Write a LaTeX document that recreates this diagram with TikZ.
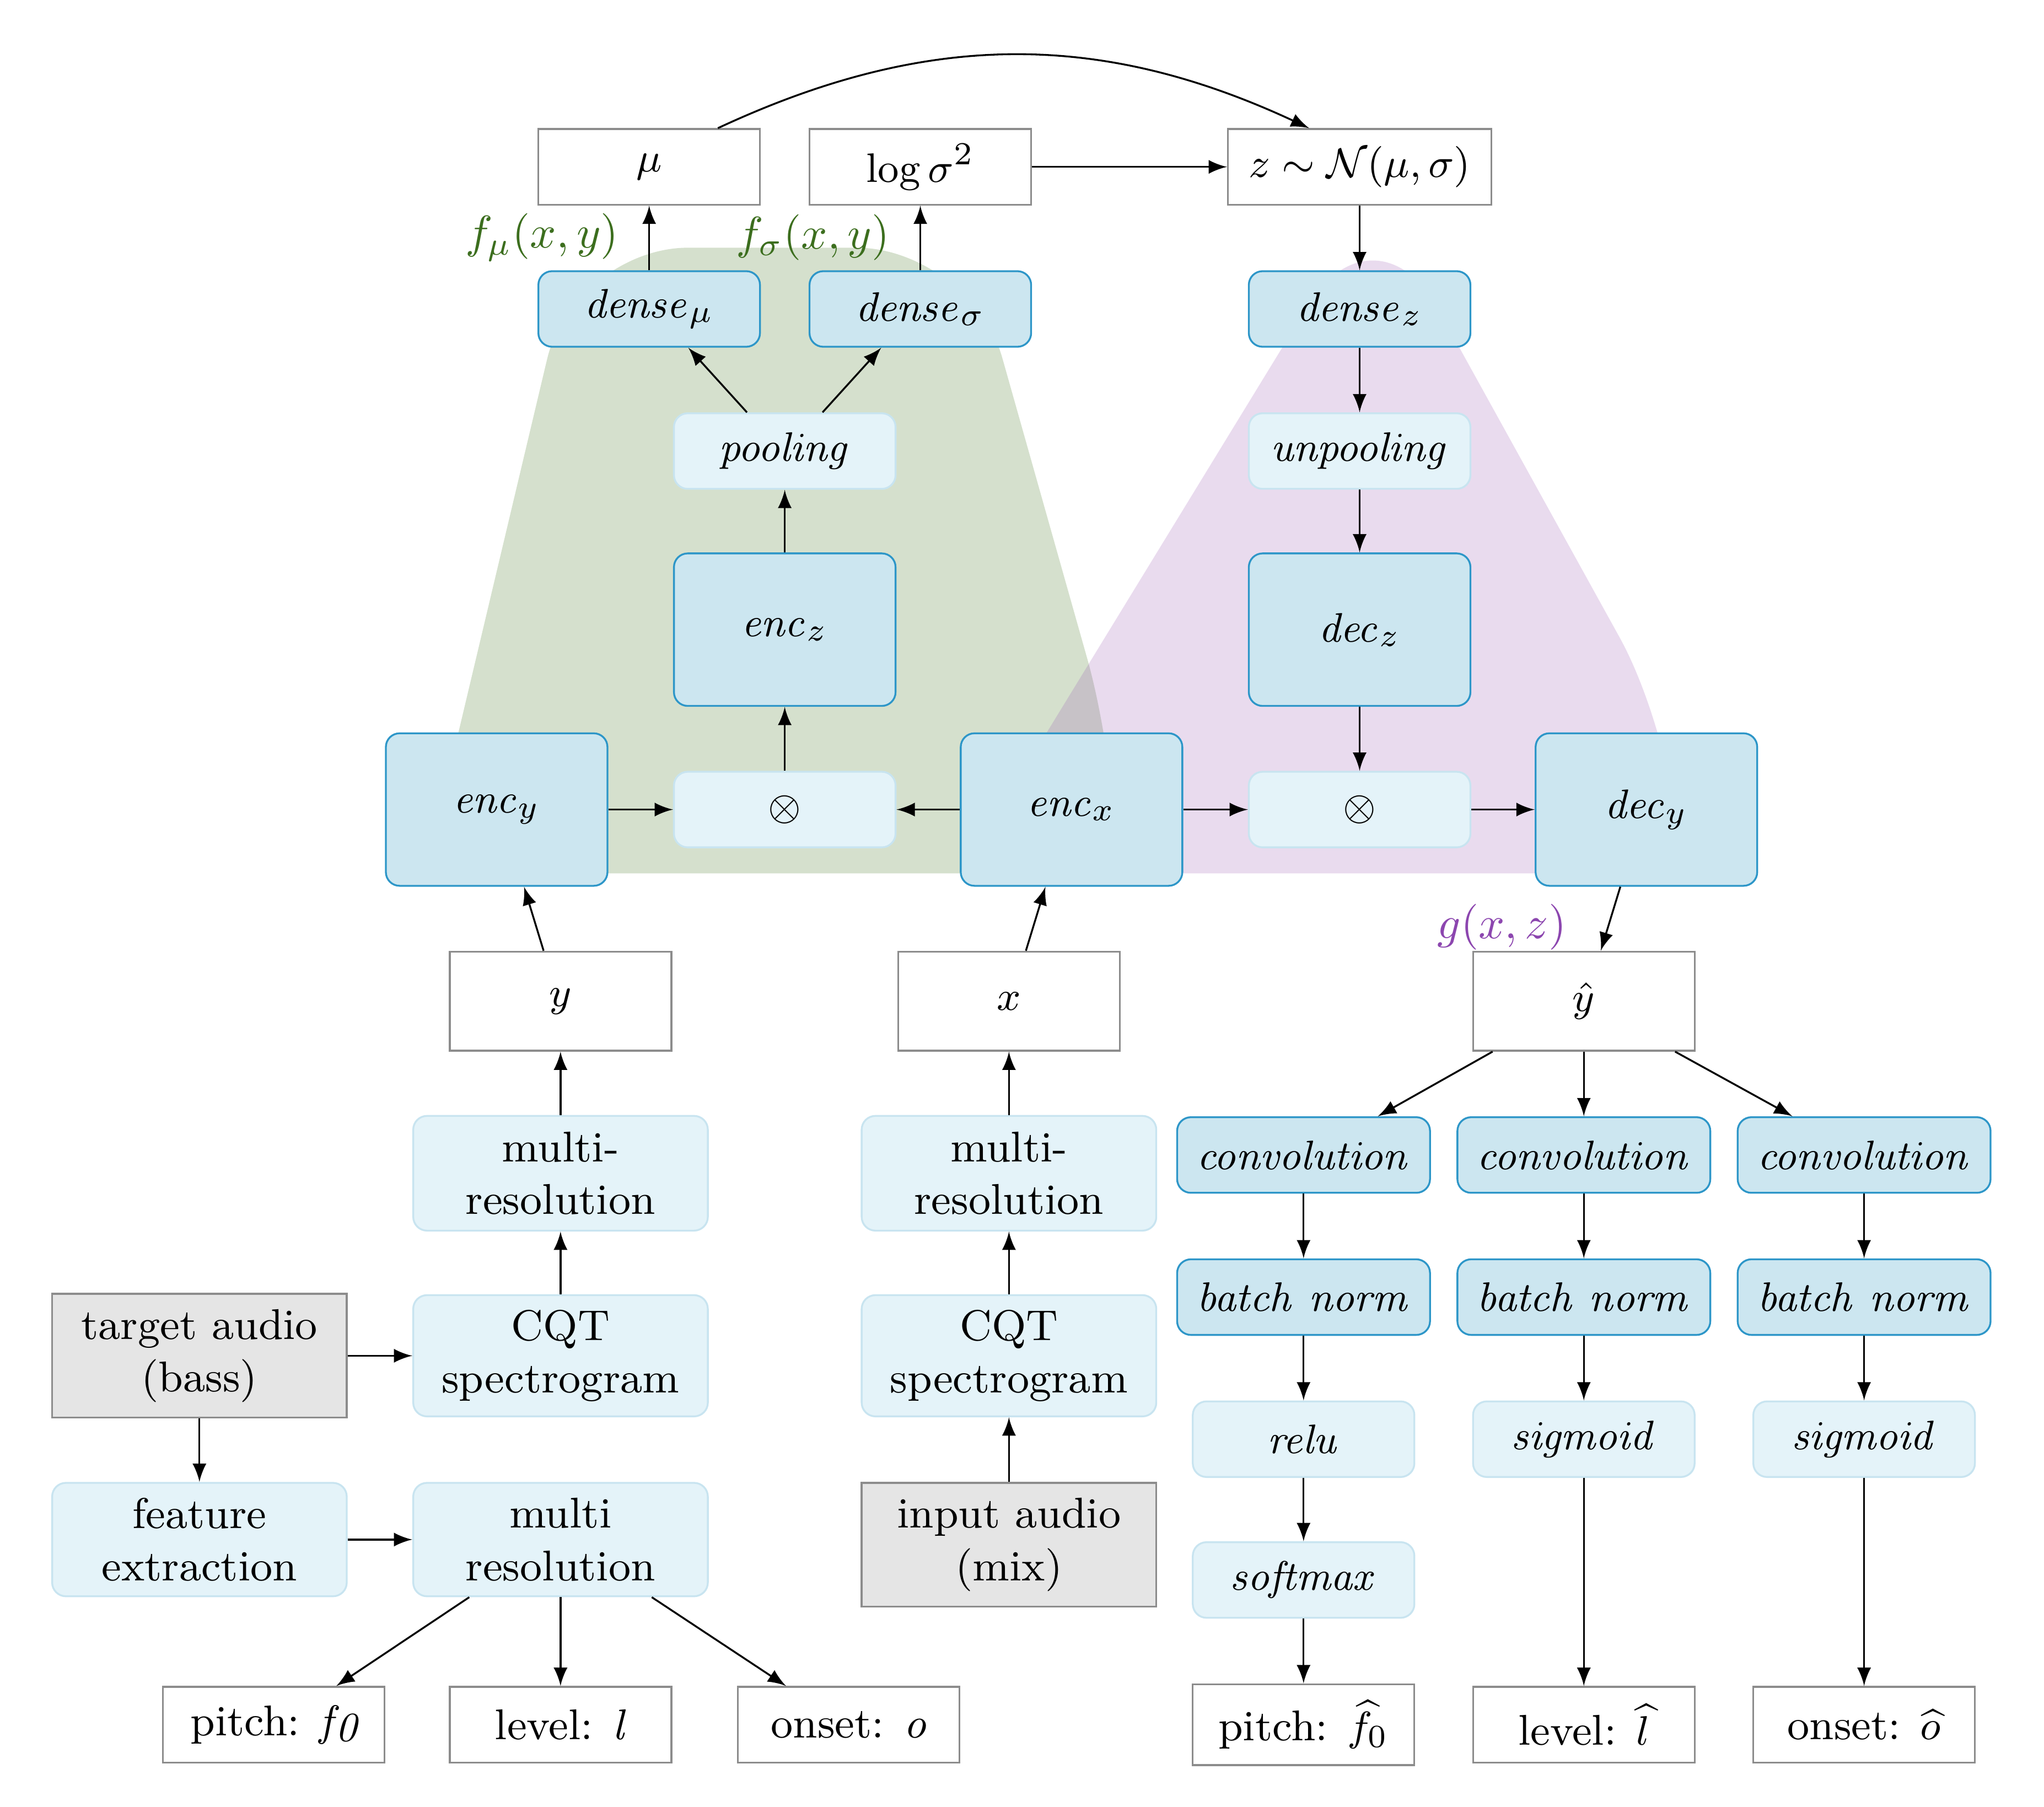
\documentclass[tikz,border=0pt]{standalone}
\usepackage{amsmath}
\usepackage{tikz}
\usetikzlibrary{positioning}
\usetikzlibrary{calc,arrows}
\definecolor{darkfill}{RGB}{204,230,240}
\definecolor{darkline}{RGB}{45,150,200}
\definecolor{lightfill}{RGB}{228,243,249}
\definecolor{lightline}{RGB}{200,228,240}
\definecolor{encgreen}{RGB}{115,153,90}
\definecolor{decpurple}{RGB}{153,90,178}
\definecolor{labgreen}{RGB}{60,110,30}
\definecolor{labpurple}{RGB}{140,70,175}
\tikzset{
  blk/.style = {align=center, inner sep=0pt, text centered,
    minimum width=1.7cm, minimum height=0.58cm, font=\fontsize{9.4}{11.5}\selectfont},
  blk_w/.style = {blk, rectangle, draw=black!45, fill=white},% plain box
  blk_d/.style = {blk, rectangle, rounded corners=3pt, draw=darkline,
    fill=darkfill},% layer, dark
  blk_l/.style = {blk, rectangle, rounded corners=3pt, draw=lightline,
    fill=lightfill},% layer, light
  blk_g/.style = {blk, rectangle, draw=black!45, fill=black!10},% audio in
  wide/.style = {minimum width=2.26cm, minimum height=0.88cm},
  tall/.style = {minimum height=1.17cm}
}
\begin{document}
\begin{tikzpicture}[-latex, x=0.1mm, y=-0.1mm]
\useasboundingbox (0,0) rectangle (1568,1386);
% encoder / decoder areas
\fill[encgreen, opacity=0.3, rounded corners=25pt] (345,590) -- (440,190) -- (745,190) -- (858,590) [sharp corners] -- (858,670) -- (345,670) -- cycle;
\fill[decpurple, opacity=0.22, rounded corners=28pt] (795,575) -- (1055,150) -- (1290,575) [sharp corners] -- (1290,670) -- (795,670) -- cycle;
% top row
\node [blk_w] (mu) at (498,128) {$\mu$};
\node [blk_w] (lsig) at (706,128) {$\log\sigma^2$};
\node [blk_w, minimum width=2.02cm] (z) at (1043,128) {$z \sim \mathcal{N}(\mu,\sigma)$};
\node [blk_d] (dmu) at (498,237) {$\mathit{dense}_\mu$};
\node [blk_d] (dsig) at (706,237) {$\mathit{dense}_\sigma$};
\node [blk_d] (dz) at (1043,237) {$\mathit{dense}_z$};
\node [blk_l] (pool) at (602,346) {$\mathit{pooling}$};
\node [blk_l] (unpool) at (1043,346) {$\mathit{unpooling}$};
\node [blk_d, tall] (encz) at (602,483) {$\mathit{enc}_z$};
\node [blk_d, tall] (decz) at (1043,483) {$\mathit{dec}_z$};
\node [blk_d, tall] (ency) at (381,621) {$\mathit{enc}_y$};
\node [blk_l] (ot1) at (602,621) {$\otimes$};
\node [blk_d, tall] (encx) at (822,621) {$\mathit{enc}_x$};
\node [blk_l] (ot2) at (1043,621) {$\otimes$};
\node [blk_d, tall] (decy) at (1263,621) {$\mathit{dec}_y$};
\node [text=labgreen, anchor=east] (fmu) at (487,182) {$f_\mu(x,y)$};
\node [text=labgreen, anchor=east] (fsig) at (695,182) {$f_\sigma(x,y)$};
\node [text=labpurple, anchor=east] (gxz) at (1214,711) {$g(x,z)$};
% inputs
\node [blk_w, minimum height=0.76cm] (y) at (430,768) {$y$};
\node [blk_w, minimum height=0.76cm] (x) at (774,768) {$x$};
\node [blk_w, minimum height=0.76cm] (yhat) at (1215,768) {$\hat{y}$};
\node [blk_l, wide] (mr1) at (430,900) {multi-\\resolution};
\node [blk_l, wide] (mr2) at (774,900) {multi-\\resolution};
\node [blk_l, wide, minimum height=0.93cm] (cqt1) at (430,1040) {CQT\\spectrogram};
\node [blk_l, wide, minimum height=0.93cm] (cqt2) at (774,1040) {CQT\\spectrogram};
\node [blk_g, wide, minimum height=0.95cm] (tgt) at (153,1040) {target audio\\(bass)};
\node [blk_l, wide, minimum height=0.87cm] (feat) at (153,1181) {feature\\extraction};
\node [blk_l, wide, minimum height=0.87cm] (mr3) at (430,1181) {multi\\resolution};
\node [blk_g, wide, minimum height=0.95cm] (inp) at (774,1185) {input audio\\(mix)};
\node [blk_w] (pitch) at (210,1323) {pitch: \textit{f\kern0.5pt\raisebox{-0.3ex}{\small0}}};
\node [blk_w] (level) at (430,1323) {level: \textit{l}};
\node [blk_w] (onset) at (651,1323) {onset: \textit{o}};
% output heads
\foreach \n/\xx in {1/1000,2/1215,3/1430}{
  \node [blk_d, minimum width=1.94cm] (conv\n) at (\xx,886) {$\mathit{convolution}$};
  \node [blk_d, minimum width=1.94cm] (bn\n) at (\xx,995) {$\mathit{batch\ norm}$};
}
\node [blk_l] (relu) at (1000,1104) {$\mathit{relu}$};
\node [blk_l] (sig2) at (1215,1104) {$\mathit{sigmoid}$};
\node [blk_l] (sig3) at (1430,1104) {$\mathit{sigmoid}$};
\node [blk_l] (smax) at (1000,1212) {$\mathit{softmax}$};
\node [blk_w, minimum height=0.62cm] (pitchh) at (1000,1323) {pitch: $\widehat{f_0}$};
\node [blk_w] (levelh) at (1215,1323) {level: $\widehat{l}$};
\node [blk_w] (onseth) at (1430,1323) {onset: $\widehat{o}$};
% connectors
\draw (mu.north east) ++(-33,0) coordinate (mutop) to[bend left=25] ($(z.north west)+(63,0)$);
\draw (lsig) -- (z);
\draw (dmu) -- (mu);
\draw (dsig) -- (lsig);
\draw ($(pool.north)+(-29,0)$) -- ($(dmu.south)+(30,0)$);
\draw ($(pool.north)+(29,0)$) -- ($(dsig.south)+(-30,0)$);
\draw (encz) -- (pool);
\draw (ot1) -- (encz);
\draw (ency) -- (ot1);
\draw (encx) -- (ot1);
\draw (encx) -- (ot2);
\draw (ot2) -- (decy);
\draw (z) -- (dz);
\draw (dz) -- (unpool);
\draw (unpool) -- (decz);
\draw (decz) -- (ot2);
\draw ($(decy.south)+(-20,0)$) -- ($(yhat.north)+(13,0)$);
\draw ($(y.north)+(-13,0)$) -- ($(ency.south)+(21,0)$);
\draw ($(x.north)+(13,0)$) -- ($(encx.south)+(-20,0)$);
\draw (mr1) -- (y);
\draw (cqt1) -- (mr1);
\draw (tgt) -- (cqt1);
\draw (tgt) -- (feat);
\draw (feat) -- (mr3);
\draw (inp) -- (cqt2);
\draw (cqt2) -- (mr2);
\draw (mr2) -- (x);
\draw ($(mr3.south)+(-70,0)$) -- ($(pitch.north)+(48,0)$);
\draw (mr3) -- (level);
\draw ($(mr3.south)+(70,0)$) -- ($(onset.north)+(-48,0)$);
\draw ($(yhat.south)+(-70,0)$) -- ($(conv1.north)+(57,0)$);
\draw (yhat) -- (conv2);
\draw ($(yhat.south)+(70,0)$) -- ($(conv3.north)+(-55,0)$);
\draw (conv1) -- (bn1);
\draw (conv2) -- (bn2);
\draw (conv3) -- (bn3);
\draw (bn1) -- (relu);
\draw (relu) -- (smax);
\draw (smax) -- (pitchh);
\draw (bn2) -- (sig2);
\draw (sig2) -- (levelh);
\draw (bn3) -- (sig3);
\draw (sig3) -- (onseth);
\end{tikzpicture}
\end{document}
